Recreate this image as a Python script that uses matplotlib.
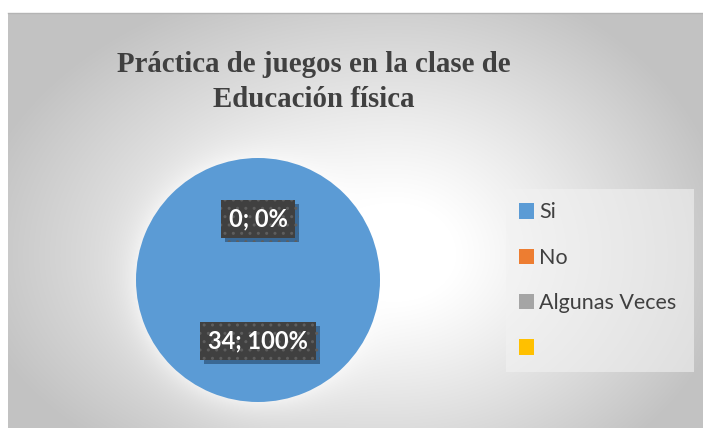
import numpy as np
import matplotlib
matplotlib.use("Agg")
import matplotlib.pyplot as plt
from matplotlib.patches import Patch
import matplotlib.patheffects as pe

# ---- data ----
categories = ["Si", "No", "Algunas Veces", ""]
values = [34, 0, 0]
colors = ["#5B9BD5", "#ED7D31", "#A5A5A5", "#FFC000"]
title_lines = ["Práctica de juegos en la clase de", "Educación física"]

W, H = 703, 428
DPI = 100
fig = plt.figure(figsize=(W / DPI, H / DPI), dpi=DPI)
fig.patch.set_facecolor("white")

# ---- background (radial gradient chart area) ----
bg = fig.add_axes([0, 0, 1, 1], zorder=0)
bg.set_axis_off()
yy, xx = np.mgrid[0:H, 0:W].astype(float) + 0.5
cx, cy = 395.0, 255.0
sx = np.where(xx < cx, 430.0, 340.0)
sy = np.where(yy < cy, 290.0, 260.0)
d = np.sqrt(((xx - cx) / sx) ** 2 + ((yy - cy) / sy) ** 2)
t = np.clip((d - 0.18) / (1.0 - 0.18), 0, 1) ** 1.1
val = 255 - (255 - 194) * t
pcx, pcy, R = 258.0, 280.0, 122.0
rr = np.sqrt((xx - pcx) ** 2 + (yy - pcy) ** 2)
glow = np.exp(-np.clip(rr - R, 0, None) / 14.0) * 0.55
val = val + (255 - val) * glow
img = np.dstack([val, val, val]) / 255.0
mask = (xx < 8) | (yy < 13)
img[mask] = 1.0
bg.imshow(img, extent=(0, W, H, 0), interpolation="bilinear", aspect="auto")
bg.set_xlim(0, W)
bg.set_ylim(H, 0)
bg.plot([8, W], [13.2, 13.2], color="#b4b4b4", lw=1.0)

# ---- pie ----
half = 130.0
ax = fig.add_axes([(pcx - half) / W, (H - pcy - half) / H, 2 * half / W, 2 * half / H], zorder=2)
ax.set_axis_off()
wedges, _ = ax.pie(values, colors=colors[:len(values)], startangle=90, counterclock=False,
                   radius=1.0, wedgeprops=dict(linewidth=0))
ax.set_aspect("equal")
ax.set_xlim(-half / R, half / R)
ax.set_ylim(-half / R, half / R)

total = float(sum(values))
seen = set()
for w, v in zip(wedges, values):
    ang = np.deg2rad((w.theta1 + w.theta2) / 2.0)
    x, y = 0.5 * np.cos(ang), 0.5 * np.sin(ang)
    key = (round(x, 3), round(y, 3))
    if key in seen:
        continue
    seen.add(key)
    label = f"{v}; {100.0 * v / total:.0f}%"
    tx = ax.text(x, y, label, ha="center", va="center", fontsize=17, fontweight="bold",
                 family="Lato", color="white",
                 bbox=dict(boxstyle="square,pad=0.33", fc="#404040", ec="#5e5e5e",
                           lw=0, hatch=".."))
    tx.get_bbox_patch().set_path_effects([
        pe.SimplePatchShadow(offset=(3, -3), shadow_rgbFace="#1f3f5f", alpha=0.55),
        pe.Normal()])

# ---- title ----
fig.text(314 / W, 1 - 72 / H, title_lines[0], ha="center", va="baseline",
         family="Liberation Serif", fontweight="bold", fontsize=20.8, color="#404040", zorder=3)
fig.text(314 / W, 1 - 107 / H, title_lines[1], ha="center", va="baseline",
         family="Liberation Serif", fontweight="bold", fontsize=20.8, color="#404040", zorder=3)

# ---- legend ----
handles = [Patch(facecolor=c, edgecolor="none") for c in colors]
leg = fig.legend(handles, categories, loc="center left",
                 bbox_to_anchor=(506 / W, 1 - 371 / H, (694 - 506) / W, (371 - 190) / H),
                 mode="expand", frameon=True, fancybox=False,
                 handlelength=0.72, handleheight=0.72, handletextpad=0.22,
                 labelspacing=1.18, borderpad=0.6, borderaxespad=0,
                 prop=dict(family="Lato", size=15.5))
leg.get_frame().set_facecolor("#f2f2f2")
leg.get_frame().set_alpha(0.6)
leg.get_frame().set_linewidth(0)
for txt in leg.get_texts():
    txt.set_color("#404040")

fig.savefig("out.png", dpi=DPI)
